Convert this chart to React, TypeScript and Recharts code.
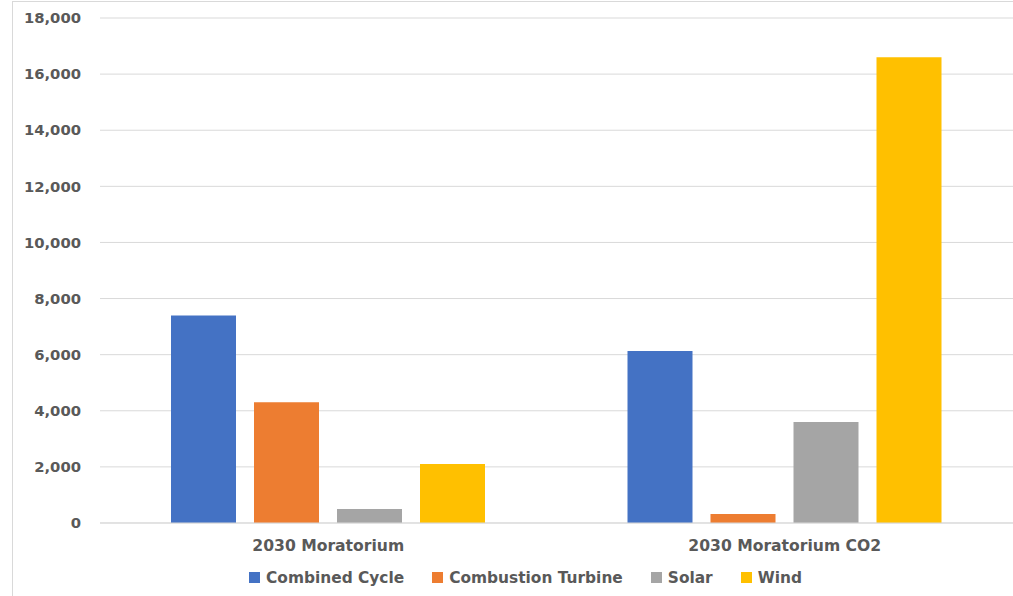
import React from "react";
import { BarChart, Bar, XAxis, YAxis, CartesianGrid, Legend } from "recharts";

const categories = ["2030 Moratorium", "2030 Moratorium CO2"];
const combinedCycle = [7400, 6130];
const combustionTurbine = [4300, 320];
const solar = [500, 3600];
const wind = [2100, 16600];
const yTicks = [0, 2000, 4000, 6000, 8000, 10000, 12000, 14000, 16000, 18000];

const seriesNames = ["Combined Cycle", "Combustion Turbine", "Solar", "Wind"];
const seriesKeys = ["cc", "ct", "solar", "wind"];
const seriesColors = ["#4472C4", "#ED7D31", "#A5A5A5", "#FFC000"];

const data = categories.map((c, i) => ({
  name: c,
  cc: combinedCycle[i],
  ct: combustionTurbine[i],
  solar: solar[i],
  wind: wind[i],
}));

const font = "'DejaVu Sans', sans-serif";

const LegendContent = () => (
  <div style={{ display: "flex", justifyContent: "center", alignItems: "center", height: 21, paddingLeft: 38, fontFamily: font, fontWeight: 700, fontSize: 15.4, color: "#595959", whiteSpace: "nowrap" }}>
    {seriesNames.map((n, i) => (
      <div key={n} style={{ display: "flex", alignItems: "center", marginRight: i < 3 ? 28 : 0 }}>
        <span style={{ display: "inline-block", width: 11, height: 11, background: seriesColors[i], marginRight: 6 }} />
        <span>{n}</span>
      </div>
    ))}
  </div>
);

export default function App() {
  return (
    <div style={{ position: "absolute", left: 0, top: 0, width: 1013, height: 596, background: "#fff", overflow: "hidden" }}>
      <div style={{ position: "absolute", left: 12, top: 1, width: 1013, height: 600, borderLeft: "1px solid #d9d9d9", borderTop: "1px solid #d9d9d9" }} />
      <BarChart
        width={1013}
        height={596}
        data={data}
        margin={{ top: 18, right: 0, left: 0, bottom: 8 }}
        barGap={18}
        barCategoryGap={71}
        style={{ position: "absolute", left: 0, top: 0 }}
      >
        <CartesianGrid vertical={false} stroke="#d9d9d9" strokeWidth={1} />
        <XAxis
          dataKey="name"
          axisLine={{ stroke: "#d9d9d9" }}
          tickLine={false}
          tickMargin={11}
          tick={{ fill: "#595959", fontSize: 15.6, fontWeight: 700, fontFamily: font }}
          height={44}
        />
        <YAxis
          domain={[0, 18000]}
          ticks={yTicks}
          interval={0}
          axisLine={false}
          tickLine={false}
          tickSize={0}
          tickMargin={19}
          width={100}
          tickFormatter={(v: number) => v.toLocaleString("en-US")}
          tick={{ fill: "#595959", fontSize: 14.8, fontWeight: 700, fontFamily: font }}
        />
        <Legend verticalAlign="bottom" height={21} content={<LegendContent />} />
        {seriesKeys.map((k, i) => (
          <Bar key={k} dataKey={k} name={seriesNames[i]} fill={seriesColors[i]} barSize={65} isAnimationActive={false} />
        ))}
      </BarChart>
    </div>
  );
}
